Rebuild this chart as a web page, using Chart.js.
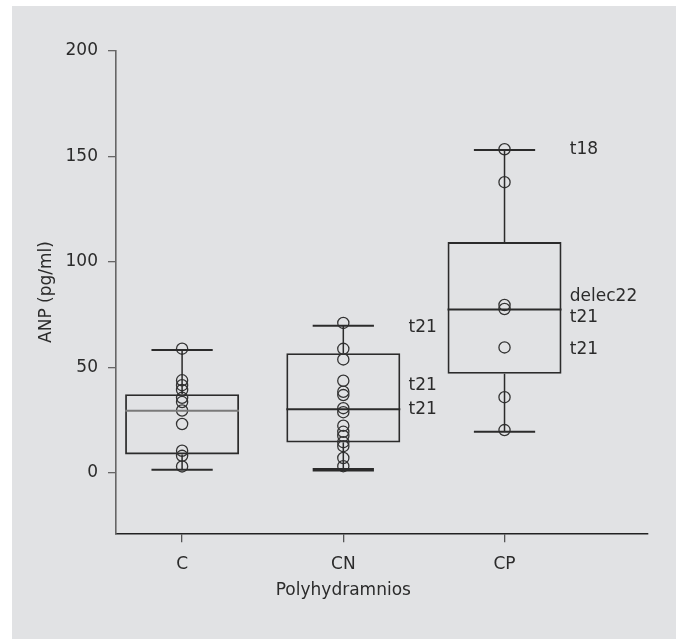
<!DOCTYPE html>
<html>
<head>
<meta charset="utf-8">
<script src="https://cdn.jsdelivr.net/npm/chart.js@4/dist/chart.umd.min.js"></script>
<style>
  html, body { margin: 0; padding: 0; background: #ffffff; }
  #wrap { position: relative; width: 680px; height: 639px; }
</style>
</head>
<body>
<div id="wrap"><canvas id="anp"></canvas></div>
<script>
// categories and positions on the x axis
const groupLabels = ['C', 'CN', 'CP'];
const groupPos = [1, 2, 3];

// individual ANP values (pg/ml) per group
const cValues = [58.8, 43.8, 41.5, 39.2, 35.5, 33.5, 29.5, 23.1, 10.4, 8.0, 3.0];
const cnValues = [71.0, 58.7, 53.7, 43.6, 38.4, 36.8, 30.6, 28.7, 22.3, 19.4, 17.4, 14.5, 12.6, 7.0, 3.1];
const cpValues = [153.3, 137.7, 79.5, 77.6, 59.4, 35.8, 20.2];

// box plot statistics
const boxQ1 = [8.7, 14.3, 46.9];
const boxMedian = [29.4, 30.1, 77.3];
const boxQ3 = [37.2, 56.6, 109.3];
const whiskerLow = [1.4, 1.4, 19.4];
const whiskerHigh = [58.2, 69.7, 153.0];

// karyotype notes next to the boxes
const noteGroup = [2, 2, 2, 3, 3, 3, 3];
const noteY = [68.7, 41.4, 29.7, 153.2, 83.4, 73.5, 58.5];
const noteText = ['t21', 't21', 't21', 't18', 'delec22', 't21', 't21'];

const yTicks = [0, 50, 100, 150, 200];

const FONT = "'DejaVu Sans', sans-serif";
const INK = '#2b2b2b';

const points = [];
[cValues, cnValues, cpValues].forEach((vals, i) => {
  vals.forEach(v => points.push({ x: groupPos[i], y: v }));
});

const boxExtras = {
  id: 'boxExtras',
  beforeDraw(chart) {
    const ctx = chart.ctx;
    ctx.save();
    ctx.fillStyle = '#e1e2e4';
    ctx.fillRect(12, 6, 664, 633);
    ctx.restore();
  },
  afterDatasetsDraw(chart) {
    const ctx = chart.ctx;
    const xs = chart.scales.x;
    const ys = chart.scales.y;
    const unit = xs.getPixelForValue(2) - xs.getPixelForValue(1);
    const capHalf = unit * 0.19;
    const boxHalf = unit * 0.3535;
    ctx.save();
    ctx.lineCap = 'butt';
    groupPos.forEach((g, i) => {
      const cx = xs.getPixelForValue(g);
      // whiskers
      ctx.strokeStyle = INK;
      ctx.lineWidth = 1.5;
      ctx.beginPath();
      ctx.moveTo(cx, ys.getPixelForValue(boxQ3[i]));
      ctx.lineTo(cx, ys.getPixelForValue(whiskerHigh[i]));
      ctx.moveTo(cx, ys.getPixelForValue(boxQ1[i]));
      ctx.lineTo(cx, ys.getPixelForValue(whiskerLow[i]));
      ctx.stroke();
      // caps
      ctx.lineWidth = 2;
      ctx.beginPath();
      ctx.moveTo(cx - capHalf, ys.getPixelForValue(whiskerHigh[i]));
      ctx.lineTo(cx + capHalf, ys.getPixelForValue(whiskerHigh[i]));
      ctx.stroke();
      ctx.lineWidth = i === 1 ? 3.5 : 2;
      ctx.beginPath();
      ctx.moveTo(cx - capHalf, ys.getPixelForValue(whiskerLow[i]));
      ctx.lineTo(cx + capHalf, ys.getPixelForValue(whiskerLow[i]));
      ctx.stroke();
      // median
      ctx.strokeStyle = i === 0 ? '#7a7a7a' : INK;
      ctx.lineWidth = 2;
      ctx.beginPath();
      ctx.moveTo(cx - boxHalf, ys.getPixelForValue(boxMedian[i]));
      ctx.lineTo(cx + boxHalf, ys.getPixelForValue(boxMedian[i]));
      ctx.stroke();
    });

    // notes
    ctx.fillStyle = INK;
    ctx.font = '17px ' + FONT;
    ctx.textAlign = 'left';
    ctx.textBaseline = 'middle';
    noteText.forEach((t, i) => {
      ctx.fillText(t, xs.getPixelForValue(noteGroup[i] + 0.405), ys.getPixelForValue(noteY[i]));
    });

    // x axis title, centred under the middle group
    ctx.textAlign = 'center';
    ctx.fillText('Polyhydramnios', xs.getPixelForValue(2), 591);
    ctx.restore();
  }
};

new Chart(document.getElementById('anp'), {
  type: 'bar',
  data: {
    datasets: [
      {
        type: 'bar',
        data: groupPos.map((x, i) => ({ x: x, y: [boxQ1[i], boxQ3[i]] })),
        backgroundColor: 'rgba(0,0,0,0)',
        borderColor: INK,
        borderWidth: 1.8,
        borderSkipped: false,
        categoryPercentage: 1,
        barPercentage: 0.707,
        order: 2
      },
      {
        type: 'scatter',
        data: points,
        pointStyle: 'circle',
        pointRadius: 5.6,
        pointBorderWidth: 1.3,
        pointBorderColor: '#333333',
        pointBackgroundColor: 'rgba(0,0,0,0)',
        showLine: false,
        order: 1
      }
    ]
  },
  options: {
    responsive: true,
    maintainAspectRatio: false,
    animation: false,
    layout: { padding: { top: 50.7, left: 0, right: 32, bottom: 0 } },
    plugins: { legend: { display: false }, tooltip: { enabled: false } },
    scales: {
      x: {
        type: 'linear',
        offset: false,
        min: 0.59,
        max: 3.89,
        afterBuildTicks: (scale) => { scale.ticks = groupPos.map(v => ({ value: v })); },
        afterFit: (scale) => { scale.height = 105.7; },
        ticks: {
          callback: (v) => groupLabels[groupPos.indexOf(v)],
          color: INK,
          font: { family: FONT, size: 17 },
          padding: 12,
          maxRotation: 0
        },
        grid: { offset: false, drawOnChartArea: false, drawTicks: true, tickLength: 9, color: '#555555', lineWidth: 1.3 },
        border: { color: '#222222', width: 1.6 }
      },
      y: {
        min: -28.7,
        max: 200,
        afterBuildTicks: (scale) => { scale.ticks = yTicks.map(v => ({ value: v })); },
        afterFit: (scale) => { scale.width = 116; },
        ticks: {
          color: INK,
          font: { family: FONT, size: 17 },
          padding: 10
        },
        title: {
          display: true,
          text: 'ANP (pg/ml)',
          color: INK,
          font: { family: FONT, size: 17 },
          padding: { top: 36, bottom: 0 }
        },
        grid: { drawOnChartArea: false, drawTicks: true, tickLength: 8, color: '#666666', lineWidth: 1.3 },
        border: { color: '#666666', width: 1.6 }
      }
    }
  },
  plugins: [boxExtras]
});
</script>
</body>
</html>
